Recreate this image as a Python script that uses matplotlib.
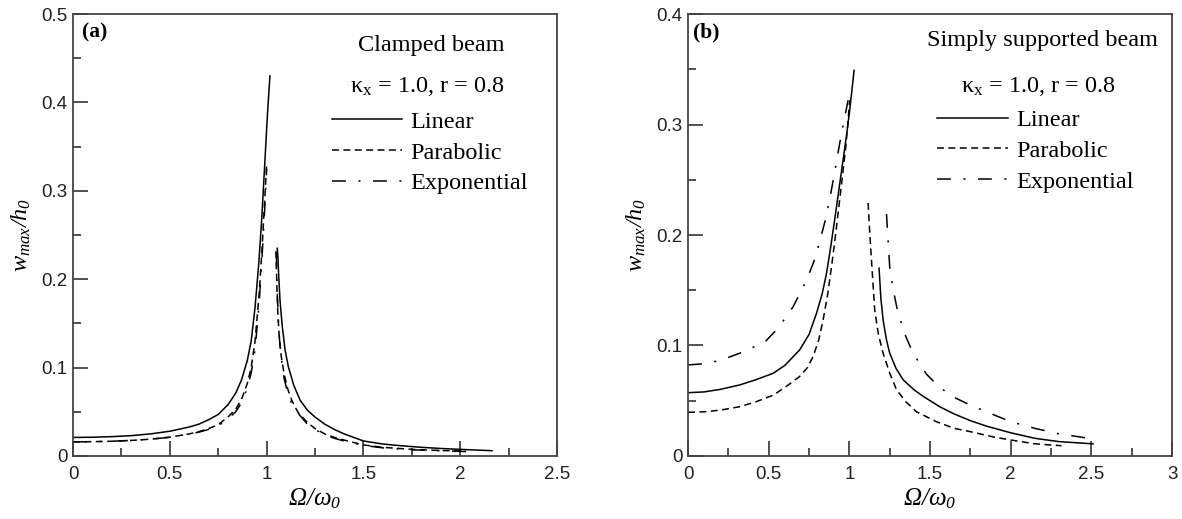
import matplotlib
matplotlib.use("Agg")
import matplotlib.pyplot as plt
from matplotlib.lines import Line2D
from matplotlib.ticker import MultipleLocator, FuncFormatter

plt.rcParams['mathtext.fontset'] = 'custom'
plt.rcParams['mathtext.it'] = 'Liberation Serif:italic'
plt.rcParams['mathtext.rm'] = 'Liberation Serif:italic'
plt.rcParams['mathtext.sf'] = 'Liberation Serif'
plt.rcParams['lines.scale_dashes'] = False
plt.rcParams['font.family'] = 'Liberation Sans'

# ---------------- Data: (a) Clamped beam ----------------
a_lin_lx = [0, 0.1, 0.2, 0.3, 0.4, 0.5, 0.6, 0.65, 0.7, 0.75, 0.8, 0.84, 0.87, 0.9, 0.92, 0.94, 0.96, 0.975, 0.99, 1.005, 1.017]
a_lin_ly = [0.021, 0.0212, 0.0219, 0.023, 0.025, 0.028, 0.0328, 0.036, 0.041, 0.047, 0.058, 0.071, 0.086, 0.108, 0.13, 0.168, 0.22, 0.27, 0.33, 0.39, 0.43]
a_lin_rx = [1.055, 1.058, 1.062, 1.069, 1.08, 1.095, 1.112, 1.14, 1.173, 1.21, 1.25, 1.3, 1.35, 1.4, 1.5, 1.6, 1.7, 1.8, 1.9, 2.0, 2.164]
a_lin_ry = [0.235, 0.225, 0.205, 0.176, 0.148, 0.12, 0.101, 0.080, 0.063, 0.052, 0.044, 0.036, 0.030, 0.025, 0.017, 0.0135, 0.0115, 0.0098, 0.0085, 0.0075, 0.006]

a_par_lx = [0, 0.1, 0.2, 0.3, 0.4, 0.5, 0.6, 0.65, 0.7, 0.75, 0.8, 0.84, 0.87, 0.9, 0.92, 0.94, 0.96, 0.975, 0.99, 1.0]
a_par_ly = [0.016, 0.0162, 0.0167, 0.0176, 0.019, 0.0213, 0.025, 0.0275, 0.031, 0.0355, 0.044, 0.053, 0.064, 0.082, 0.10, 0.13, 0.18, 0.23, 0.29, 0.33]
a_par_rx = [1.048, 1.05, 1.053, 1.058, 1.065, 1.075, 1.09, 1.11, 1.13, 1.16, 1.21, 1.25, 1.3, 1.35, 1.4, 1.5, 1.6, 1.75, 1.9, 2.03]
a_par_ry = [0.232, 0.215, 0.19, 0.16, 0.135, 0.113, 0.093, 0.075, 0.063, 0.050, 0.038, 0.031, 0.025, 0.021, 0.018, 0.0125, 0.0098, 0.0075, 0.0062, 0.0055]

a_exp_lx = [0, 0.1, 0.2, 0.3, 0.4, 0.5, 0.6, 0.65, 0.7, 0.75, 0.8, 0.84, 0.87, 0.9, 0.92, 0.94, 0.96, 0.975, 0.99, 1.0]
a_exp_ly = [0.016, 0.0162, 0.0167, 0.0176, 0.019, 0.0212, 0.0248, 0.027, 0.030, 0.034, 0.042, 0.050, 0.060, 0.077, 0.094, 0.12, 0.17, 0.22, 0.28, 0.325]
a_exp_rx = [1.05, 1.052, 1.055, 1.06, 1.067, 1.077, 1.09, 1.11, 1.13, 1.156, 1.21, 1.25, 1.3, 1.35, 1.4, 1.5, 1.6, 1.75, 1.9, 2.03]
a_exp_ry = [0.23, 0.21, 0.185, 0.155, 0.13, 0.108, 0.088, 0.070, 0.059, 0.050, 0.036, 0.030, 0.024, 0.020, 0.017, 0.012, 0.0092, 0.007, 0.006, 0.005]

# ---------------- Data: (b) Simply supported beam ----------------
b_lin_lx = [0, 0.1, 0.2, 0.32, 0.42, 0.527, 0.6, 0.692, 0.75, 0.796, 0.83, 0.858, 0.885, 0.909, 0.935, 0.961, 0.982, 1.002, 1.015, 1.029]
b_lin_ly = [0.0573, 0.058, 0.0603, 0.0643, 0.069, 0.0748, 0.082, 0.096, 0.110, 0.129, 0.146, 0.165, 0.19, 0.214, 0.241, 0.268, 0.29, 0.313, 0.33, 0.349]
b_lin_rx = [1.184, 1.195, 1.209, 1.23, 1.25, 1.29, 1.333, 1.4, 1.457, 1.56, 1.65, 1.75, 1.85, 2.0, 2.15, 2.3, 2.51]
b_lin_ry = [0.170, 0.143, 0.123, 0.105, 0.093, 0.079, 0.069, 0.060, 0.054, 0.0446, 0.038, 0.032, 0.027, 0.021, 0.016, 0.013, 0.011]

b_par_lx = [0, 0.1, 0.2, 0.32, 0.42, 0.527, 0.6, 0.692, 0.74, 0.775, 0.81, 0.837, 0.865, 0.889, 0.915, 0.94, 0.96, 0.978, 0.99, 1.002]
b_par_ly = [0.0395, 0.040, 0.0415, 0.0446, 0.049, 0.055, 0.062, 0.072, 0.080, 0.090, 0.105, 0.123, 0.146, 0.171, 0.201, 0.232, 0.257, 0.280, 0.30, 0.322]
b_par_rx = [1.116, 1.125, 1.137, 1.157, 1.18, 1.209, 1.25, 1.292, 1.35, 1.416, 1.54, 1.65, 1.75, 1.9, 2.0, 2.15, 2.315]
b_par_ry = [0.229, 0.205, 0.177, 0.132, 0.110, 0.093, 0.075, 0.060, 0.049, 0.040, 0.031, 0.025, 0.022, 0.017, 0.0145, 0.011, 0.0093]

b_exp_lx = [0, 0.1, 0.2, 0.32, 0.475, 0.56, 0.651, 0.734, 0.78, 0.816, 0.85, 0.878, 0.91, 0.94, 0.965, 0.992]
b_exp_ly = [0.0824, 0.0835, 0.0865, 0.093, 0.103, 0.116, 0.135, 0.159, 0.176, 0.194, 0.213, 0.232, 0.258, 0.283, 0.302, 0.322]
b_exp_rx = [1.230, 1.24, 1.25, 1.275, 1.302, 1.35, 1.395, 1.478, 1.56, 1.65, 1.75, 1.9, 2.0, 2.15, 2.3, 2.418, 2.48]
b_exp_ry = [0.219, 0.195, 0.171, 0.148, 0.129, 0.108, 0.093, 0.074, 0.062, 0.053, 0.046, 0.037, 0.031, 0.025, 0.020, 0.0175, 0.016]

legend_labels = ['Linear', 'Parabolic', 'Exponential']
param_text = r'$\mathsf{\kappa_x}$ = 1.0, r = 0.8'

SERIF = 'Liberation Serif'
LW = 1.1
STY = {
    'lin': dict(color='black', lw=LW, linestyle='-'),
    'par': dict(color='black', lw=LW, linestyle=(0, (5.0, 3.2))),
    'exp': dict(color='black', lw=LW, linestyle=(0, (10, 9, 1.5, 9))),
}

fig = plt.figure(figsize=(11.82, 5.19), dpi=100)
axA = fig.add_axes([0.0618, 0.1214, 0.4095, 0.8516])
axB = fig.add_axes([0.5821, 0.1214, 0.4095, 0.8516])


def fmt(v, pos):
    if abs(v) < 1e-9:
        return '0'
    return '%g' % round(v, 3)


def style_axis(ax, xmax, ymax):
    ax.set_xlim(0, xmax)
    ax.set_ylim(0, ymax)
    ax.xaxis.set_major_locator(MultipleLocator(0.5))
    ax.xaxis.set_minor_locator(MultipleLocator(0.25))
    ax.yaxis.set_major_locator(MultipleLocator(0.1))
    ax.yaxis.set_minor_locator(MultipleLocator(0.05))
    ax.xaxis.set_major_formatter(FuncFormatter(fmt))
    ax.yaxis.set_major_formatter(FuncFormatter(fmt))
    ax.tick_params(axis='both', which='major', direction='in', length=10.5, width=1.1,
                   color='#222222', labelsize=13.5, labelcolor='#222222',
                   top=False, right=False, bottom=True, left=True)
    ax.tick_params(axis='both', which='minor', direction='in', length=5.5, width=1.1,
                   color='#222222', top=False, right=False, bottom=True, left=True)
    ax.tick_params(axis='x', which='major', pad=7)
    ax.tick_params(axis='y', which='major', pad=4)
    for s in ax.spines.values():
        s.set_linewidth(1.3)
        s.set_color('#444444')
    ax.set_xlabel(r'$\Omega/\omega_0$', fontsize=18, labelpad=3)
    ax.set_ylabel(r'$w_{max}/h_0$', fontsize=17.5, labelpad=6)


def draw_panel(ax, series):
    for key, xs, ys in series:
        ax.plot(xs, ys, **STY[key])


draw_panel(axA, [('lin', a_lin_lx, a_lin_ly), ('lin', a_lin_rx, a_lin_ry),
                 ('par', a_par_lx, a_par_ly), ('par', a_par_rx, a_par_ry),
                 ('exp', a_exp_lx, a_exp_ly), ('exp', a_exp_rx, a_exp_ry)])
style_axis(axA, 2.5, 0.5)

draw_panel(axB, [('lin', b_lin_lx, b_lin_ly), ('lin', b_lin_rx, b_lin_ry),
                 ('par', b_par_lx, b_par_ly), ('par', b_par_rx, b_par_ry),
                 ('exp', b_exp_lx, b_exp_ly), ('exp', b_exp_rx, b_exp_ry)])
style_axis(axB, 3.0, 0.4)

handles = [Line2D([], [], **STY['lin']), Line2D([], [], **STY['par']), Line2D([], [], **STY['exp'])]


def add_annot(ax, title, tx, ty, kx, ky, lx, ly, label, px):
    ax.text(tx, ty, title, transform=ax.transAxes, ha='center', va='center',
            family=SERIF, fontsize=17.5)
    ax.text(kx, ky, param_text, transform=ax.transAxes, ha='center', va='center',
            family=SERIF, fontsize=17.5)
    ax.text(px, 0.959, label, transform=ax.transAxes,
            ha='left', va='center', family=SERIF, fontsize=15.5, fontweight='bold')
    ax.legend(handles, legend_labels, loc='upper left', bbox_to_anchor=(lx, ly),
              frameon=False, borderpad=0, borderaxespad=0, handlelength=2.9,
              handletextpad=0.33, labelspacing=0.36,
              prop={'family': SERIF, 'size': 17.5})


add_annot(axA, 'Clamped beam', 0.74, 0.928, 0.733, 0.835, 0.535, 0.781, '(a)', 0.019)
add_annot(axB, 'Simply supported beam', 0.733, 0.939, 0.724, 0.837, 0.515, 0.785, '(b)', 0.011)

fig.savefig('out.png', dpi=100)
